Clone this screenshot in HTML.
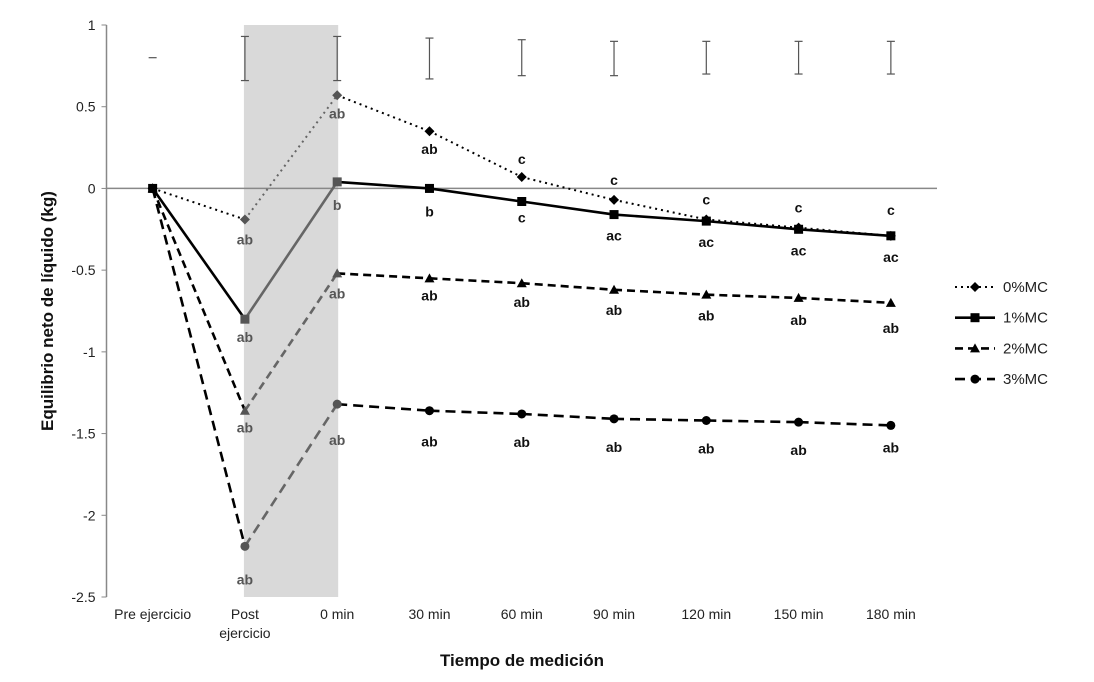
<!DOCTYPE html>
<html><head><meta charset="utf-8"><style>
body{margin:0;background:#fff;}
svg{font-family:"Liberation Sans",sans-serif;}
</style></head><body>
<svg id="c" width="1094" height="677"></svg>
<script>
const categories=["Pre ejercicio","Post ejercicio","0 min","30 min","60 min","90 min","120 min","150 min","180 min"];
const yTicks=[1,0.5,0,-0.5,-1,-1.5,-2,-2.5];
const s0=[0,-0.19,0.57,0.35,0.07,-0.07,-0.19,-0.24,-0.29];
const s1=[0,-0.80,0.04,0.0,-0.08,-0.16,-0.20,-0.25,-0.29];
const s2=[0,-1.36,-0.52,-0.55,-0.58,-0.62,-0.65,-0.67,-0.70];
const s3=[0,-2.19,-1.32,-1.36,-1.38,-1.41,-1.42,-1.43,-1.45];
const l0=["","ab","ab","ab","c","c","c","c","c"];
const l1=["","ab","b","b","c","ac","ac","ac","ac"];
const l2=["","ab","ab","ab","ab","ab","ab","ab","ab"];
const l3=["","ab","ab","ab","ab","ab","ab","ab","ab"];
const errHi=[0.80,0.93,0.93,0.92,0.91,0.90,0.90,0.90,0.90];
const errLo=[0.80,0.66,0.66,0.67,0.69,0.69,0.70,0.70,0.70];
const seriesNames=["0%MC","1%MC","2%MC","3%MC"];

const NS="http://www.w3.org/2000/svg";
const svg=document.getElementById('c');
const X0=106.5,X1=937,Y0=25,Y1=597;
const step=(X1-X0)/categories.length;
const x=i=>X0+step*(i+0.5);
const y=v=>Y0+(1-v)/3.5*(Y1-Y0);
function el(t,a,p){const e=document.createElementNS(NS,t);for(const k in a)e.setAttribute(k,a[k]);(p||svg).appendChild(e);return e;}

const band=el('rect',{x:x(1)-1,y:Y0,width:x(2)-x(1)+2,height:Y1-Y0,fill:'#d9d9d9'});



const ax=el('line',{x1:X0,y1:Y0,x2:X0,y2:Y1,stroke:'#888','stroke-width':1.5});


const zl=el('line',{x1:X0,y1:y(0),x2:X1,y2:y(0),stroke:'#888','stroke-width':1.5});



yTicks.forEach(v=>{
  el('line',{x1:X0-5,y1:y(v),x2:X0,y2:y(v),stroke:'#888'});
  const t=el('text',{x:X0-11,y:y(v)+5,'text-anchor':'end','font-size':14,fill:'#222'});
  t.textContent=String(v);
  
  
});
categories.forEach((c,i)=>{
  const t=el('text',{x:x(i),y:619,'text-anchor':'middle','font-size':14,fill:'#222'});
  
  
  if(c==="Post ejercicio"){
    el('tspan',{x:x(i),y:619},t).textContent="Post";
    el('tspan',{x:x(i),y:638},t).textContent="ejercicio";
  } else t.textContent=c;
});

// error bars
errHi.forEach((h,i)=>{
  const g=el('g',{stroke:'#555','stroke-width':1.2});
  
  
  if(Math.abs(h-errLo[i])<0.01){el('line',{x1:x(i)-4,y1:y(h),x2:x(i)+4,y2:y(h)},g);return;}
  el('line',{x1:x(i),y1:y(h),x2:x(i),y2:y(errLo[i])},g);
  el('line',{x1:x(i)-4,y1:y(h),x2:x(i)+4,y2:y(h)},g);
  el('line',{x1:x(i)-4,y1:y(errLo[i]),x2:x(i)+4,y2:y(errLo[i])},g);
});

const series=[s0,s1,s2,s3];
const labels=[l0,l1,l2,l3];
const dashes=["2,4","","8,5","10,6"];
const markers=["diamond","square","triangle","circle"];
const ldy=[[0,20,18,18,-18,-20,-20,-20,-26],[0,18,23,23,16,21,21,21,21],[0,17,20,17,19,20,21,22,25],[0,33,36,31,28,28,28,28,22]];
function marker(m,cx,cy,col,p){
  if(m==="diamond")return el('polygon',{points:`${cx},${cy-5} ${cx+5},${cy} ${cx},${cy+5} ${cx-5},${cy}`,fill:col},p);
  if(m==="square")return el('rect',{x:cx-4.5,y:cy-4.5,width:9,height:9,fill:col},p);
  if(m==="triangle")return el('polygon',{points:`${cx},${cy-5} ${cx+5},${cy+4} ${cx-5},${cy+4}`,fill:col},p);
  return el('circle',{cx:cx,cy:cy,r:4.5,fill:col},p);
}
series.forEach((s,k)=>{
  const g=el('g',{});
  
  
  for(let i=0;i<s.length-1;i++){
    const col=(i===1)?'#666':'#000';
    el('line',{x1:x(i),y1:y(s[i]),x2:x(i+1),y2:y(s[i+1]),stroke:col,'stroke-width':k===0?2:2.6,'stroke-dasharray':dashes[k]},g);
  }
  s.forEach((v,i)=>{
    const col=(i===1||i===2)?'#555':'#000';
    const m=marker(markers[k],x(i),y(v),col,g);
    
    
    const lb=labels[k][i];
    if(lb){
      const t=el('text',{x:x(i),y:y(v)+ldy[k][i]+5,'text-anchor':'middle','font-size':14,'font-weight':'bold',fill:(i===1||i===2)?'#555':'#111'},g);
      t.textContent=lb;
      
      
    }
  });
});

// legend
const lg=el('g',{});


seriesNames.forEach((n,k)=>{
  const ly=287+k*30.7;
  const e=el('g',{},lg);
  
  
  el('line',{x1:955,y1:ly,x2:995,y2:ly,stroke:'#000','stroke-width':k===0?2:2.6,'stroke-dasharray':dashes[k]},e);
  marker(markers[k],975,ly,'#000',e);
  const t=el('text',{x:1003,y:ly+5,'font-size':15,fill:'#222'},e);
  t.textContent=n;
});

const yt=el('text',{x:0,y:0,transform:'translate(53,311) rotate(-90)','text-anchor':'middle','font-size':17,'font-weight':'bold',fill:'#111'});
yt.textContent="Equilibrio neto de líquido (kg)";


const xt=el('text',{x:522,y:666,'text-anchor':'middle','font-size':17,'font-weight':'bold',fill:'#111'});
xt.textContent="Tiempo de medición";


</script>
</body></html>
